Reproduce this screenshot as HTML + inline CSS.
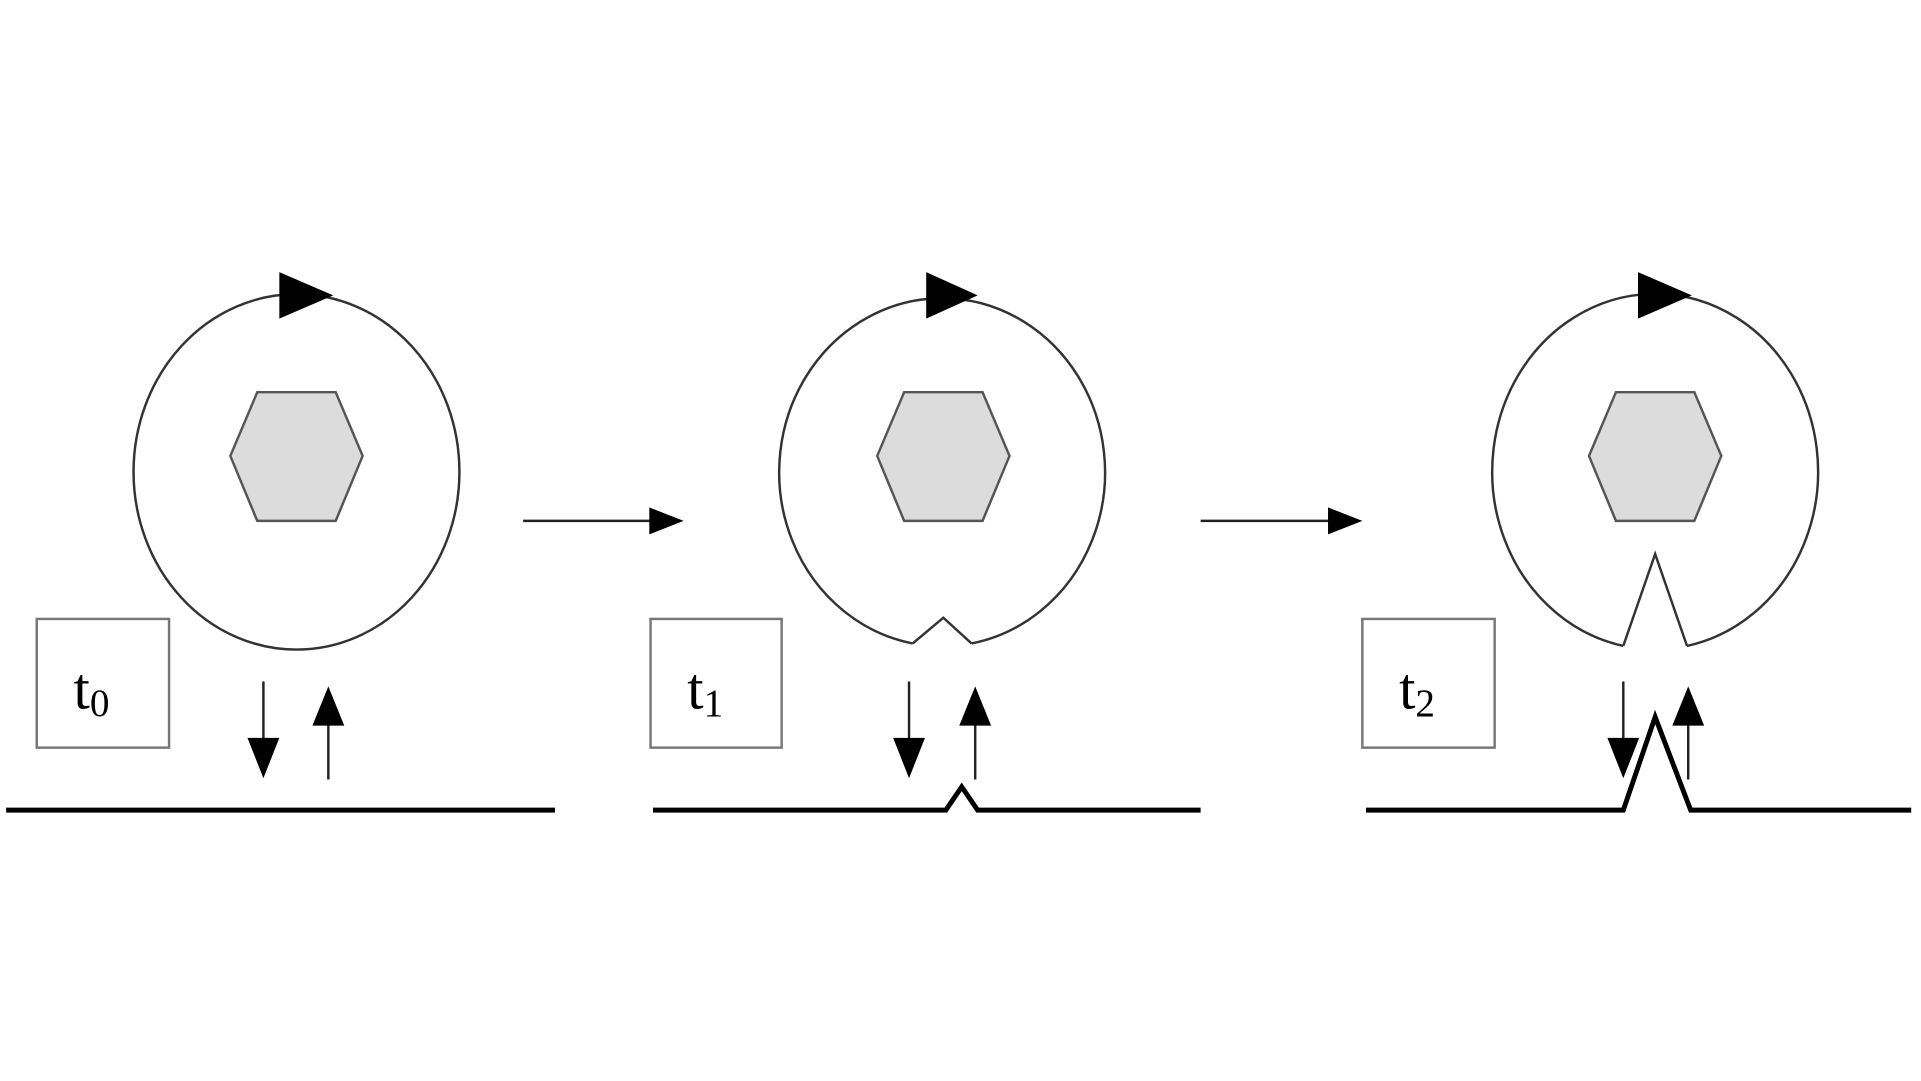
<!DOCTYPE html>
<html><head><meta charset="utf-8"><style>html,body{margin:0;padding:0;background:#fff}svg{display:block}</style></head>
<body>
<svg width="1921" height="1081" viewBox="0 0 1568 882" preserveAspectRatio="none" xmlns="http://www.w3.org/2000/svg">
<rect width="1568" height="882" fill="#fff"/>
<g fill="none" stroke="#333" stroke-width="2">
<ellipse cx="242" cy="385" rx="133" ry="145"/>
<path d="M745 525 A133 142 0 1 1 793 525"/>
<path d="M1325 527 A133 145 0 1 1 1377 527"/>
<polyline points="745,525 770,504 793,525" stroke-linejoin="miter"/>
<polyline points="1325,527 1351,452 1377,527"/>
</g>
<g fill="#000">
<polygon points="228,222 228,260 272,241"/>
<polygon points="756,222 756,260 798,241"/>
<polygon points="1337,222 1337,260 1381,241"/>
</g>
<g fill="#dcdcdc" stroke="#555" stroke-width="2">
<polygon points="188,372 210,320 274,320 296,372 274,425 210,425"/>
<polygon points="716,372 738,320 802,320 824,372 802,425 738,425"/>
<polygon points="1297,372 1319,320 1383,320 1405,372 1383,425 1319,425"/>
</g>
<g fill="none" stroke="#777" stroke-width="2">
<rect x="30" y="505" width="108" height="105"/>
<rect x="531" y="505" width="107" height="105"/>
<rect x="1112" y="505" width="108" height="105"/>
</g>
<g font-family="Liberation Serif, serif" font-size="48" fill="#000">
<text x="60" y="578">t<tspan font-size="32" dy="6">0</tspan></text>
<text x="561" y="578">t<tspan font-size="32" dy="6">1</tspan></text>
<text x="1142" y="578">t<tspan font-size="32" dy="6">2</tspan></text>
</g>
<g stroke="#222" stroke-width="2">
<line x1="215" y1="556" x2="215" y2="605"/>
<line x1="268" y1="590" x2="268" y2="636"/>
<line x1="742" y1="556" x2="742" y2="605"/>
<line x1="796" y1="590" x2="796" y2="636"/>
<line x1="1325" y1="556" x2="1325" y2="605"/>
<line x1="1378" y1="590" x2="1378" y2="636"/>
<line x1="427" y1="425" x2="532" y2="425"/>
<line x1="980" y1="425" x2="1086" y2="425"/>
</g>
<g fill="#000">
<polygon points="202,602 228,602 215,635"/>
<polygon points="255,592 281,592 268,560"/>
<polygon points="729,602 755,602 742,635"/>
<polygon points="783,592 809,592 796,560"/>
<polygon points="1312,602 1338,602 1325,635"/>
<polygon points="1365,592 1391,592 1378,560"/>
<polygon points="530,414 530,436 558,425"/>
<polygon points="1084,414 1084,436 1112,425"/>
</g>
<g fill="none" stroke="#000" stroke-width="4" stroke-linejoin="miter">
<line x1="5" y1="661" x2="453" y2="661"/>
<polyline points="533,661 772,661 785,642 798,661 980,661"/>
<polyline points="1115,661 1325,661 1351,585 1380,661 1560,661"/>
</g>
</svg>
</body></html>
